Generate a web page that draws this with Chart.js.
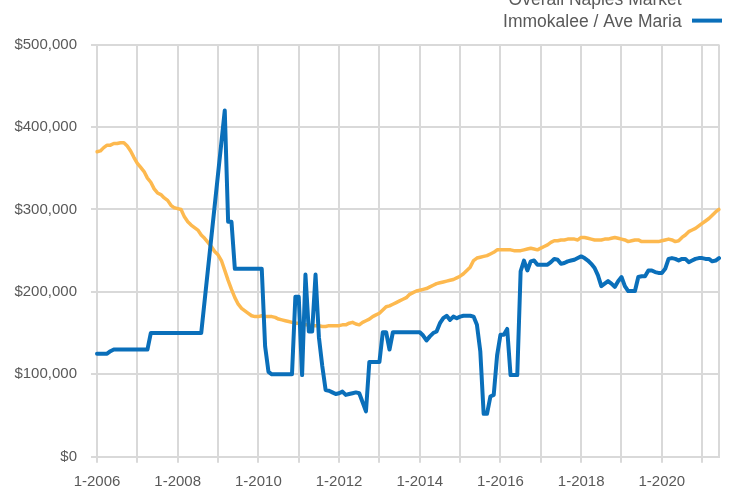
<!DOCTYPE html>
<html>
<head>
<meta charset="utf-8">
<script src="https://cdn.jsdelivr.net/npm/chart.js@4/dist/chart.umd.min.js"></script>
<style>
  html, body { margin: 0; padding: 0; background: #ffffff; }
  #wrap { width: 729px; height: 492px; }
</style>
</head>
<body>
<div id="wrap"><canvas id="chart" width="729" height="492"></canvas></div>
<script>
// Monthly median sale price, January 2006 through June 2021.
const firstYear = 2006;
const monthCount = 186;
const categories = [];
for (let i = 0; i < monthCount; i++) {
  categories.push(((i % 12) + 1) + '-' + (firstYear + Math.floor(i / 12)));
}

const seriesNames = ['Overall Naples Market', 'Immokalee / Ave Maria'];

// Overall Naples Market, by year (Jan..Dec)
const naples = [
  370000, 371000, 375000, 378000, 378000, 380000, 380000, 381000, 381000, 377000, 371000, 363000, // 2006
  356000, 351000, 346000, 338000, 333000, 325000, 320000, 318000, 314000, 311000, 305000, 302000, // 2007
  301000, 300000, 291000, 285000, 281000, 278000, 275000, 269000, 265000, 260000, 255000, 249000, // 2008
  245000, 238000, 226000, 214000, 203000, 193000, 185000, 180000, 177000, 174000, 171000, 170000, // 2009
  170000, 171000, 170000, 170000, 170000, 169000, 167000, 166000, 165000, 164000, 163000, 162000, // 2010
  162000, 161000, 160000, 160000, 159000, 159000, 159000, 158000, 158000, 159000, 159000, 159000, // 2011
  159000, 160000, 160000, 162000, 163000, 161000, 160000, 163000, 165000, 167000, 170000, 172000, // 2012
  174000, 178000, 182000, 183000, 185000, 187000, 189000, 191000, 193000, 197000, 199000, 201000, // 2013
  202000, 203000, 204000, 206000, 208000, 210000, 211000, 212000, 213000, 214000, 215000, 217000, // 2014
  219000, 222000, 226000, 230000, 238000, 241000, 242000, 243000, 244000, 246000, 248000, 251000, // 2015
  251000, 251000, 251000, 251000, 250000, 250000, 250000, 251000, 252000, 253000, 252000, 251000, // 2016
  253000, 255000, 257000, 260000, 262000, 262000, 263000, 263000, 264000, 264000, 264000, 263000, // 2017
  266000, 266000, 265000, 264000, 263000, 263000, 263000, 264000, 264000, 265000, 266000, 265000, // 2018
  264000, 263000, 261000, 262000, 263000, 263000, 261000, 261000, 261000, 261000, 261000, 261000, // 2019
  262000, 263000, 264000, 263000, 261000, 262000, 266000, 269000, 273000, 275000, 277000, 280000, // 2020
  283000, 286000, 289000, 293000, 297000, 300000                                                  // 2021
];

// Immokalee / Ave Maria, by year (Jan..Dec); null = no sales reported that month
const immokalee = [
  125000, 125000, 125000, 125000, 128000, 130000, 130000, 130000, 130000, 130000, 130000, 130000, // 2006
  130000, 130000, 130000, 130000, 150000, 150000, 150000, 150000, 150000, 150000, 150000, 150000, // 2007
  150000, 150000, 150000, 150000, 150000, 150000, 150000, 150000, null, null, null, null,         // 2008
  null, null, 420000, 285000, 285000, 228000, 228000, 228000, 228000, 228000, 228000, 228000,     // 2009
  228000, 228000, 134000, 103000, 100000, 100000, 100000, 100000, 100000, 100000, 100000, 194000, // 2010
  194000, 99000, 221000, 152000, 152000, 221000, 145000, 110000, 81000, 80000, 78000, 76000,      // 2011
  77000, 79000, 75000, 76000, 77000, 78000, 77000, 66000, 55000, 115000, 115000, 115000,          // 2012
  115000, 151000, 151000, 130000, 151000, 151000, 151000, 151000, 151000, 151000, 151000, 151000, // 2013
  151000, 147000, 141000, 146000, 150000, 152000, 162000, 168000, 171000, 166000, 170000, 168000, // 2014
  170000, 171000, 171000, 171000, 170000, 160000, 128000, 52000, 52000, 73000, 75000, 123000,     // 2015
  148000, 148000, 155000, 99000, 99000, 99000, 225000, 238000, 226000, 237000, 238000, 233000,    // 2016
  233000, 233000, 233000, 236000, 240000, 239000, 234000, 235000, 237000, 238000, 239000, 241000, // 2017
  243000, 241000, 238000, 234000, 229000, 220000, 207000, 210000, 213000, 210000, 206000, 213000, // 2018
  218000, 207000, 201000, 201000, 201000, 218000, 219000, 219000, 226000, 226000, 224000, 223000, // 2019
  223000, 228000, 240000, 241000, 240000, 238000, 240000, 240000, 236000, 238000, 240000, 241000, // 2020
  241000, 240000, 240000, 237000, 238000, 241000                                                  // 2021
];

const yTicks = [0, 100000, 200000, 300000, 400000, 500000];

const FONT = '"Liberation Sans", Arial, Helvetica, sans-serif';
const TEXT = '#595959';
const GRID = '#d9d9d9';
const NAPLES_COLOR = '#fdb94f';
const IMMOKALEE_COLOR = '#0a6fba';

const isJanuary = i => categories[i] && categories[i].startsWith('1-');
const yearOf = i => parseInt(categories[i].split('-')[1], 10);

// Stacked legend in the top-right corner, text first and the line sample after it
const cornerLegend = {
  id: 'cornerLegend',
  afterDraw(chart) {
    const ctx = chart.ctx;
    const rows = [
      { ds: chart.data.datasets[0], baseline: 4.5 },
      { ds: chart.data.datasets[1], baseline: 27.3 }
    ];
    ctx.save();
    ctx.font = '17.5px ' + FONT;
    ctx.textAlign = 'right';
    ctx.textBaseline = 'alphabetic';
    rows.forEach(r => {
      ctx.fillStyle = TEXT;
      ctx.fillText(r.ds.label, 681.7, r.baseline);
      ctx.strokeStyle = r.ds.borderColor;
      ctx.lineWidth = 4;
      ctx.beginPath();
      ctx.moveTo(692, r.baseline - 6.7);
      ctx.lineTo(722, r.baseline - 6.7);
      ctx.stroke();
    });
    ctx.restore();
  }
};

new Chart(document.getElementById('chart'), {
  type: 'line',
  data: {
    labels: categories,
    datasets: [
      {
        label: seriesNames[0],
        data: naples,
        borderColor: NAPLES_COLOR,
        backgroundColor: NAPLES_COLOR,
        borderWidth: 3.5,
        pointRadius: 0,
        tension: 0,
        borderJoinStyle: 'round',
        borderCapStyle: 'round',
        order: 1
      },
      {
        label: seriesNames[1],
        data: immokalee,
        borderColor: IMMOKALEE_COLOR,
        backgroundColor: IMMOKALEE_COLOR,
        borderWidth: 4,
        pointRadius: 0,
        tension: 0,
        spanGaps: true,
        borderJoinStyle: 'round',
        borderCapStyle: 'round',
        order: 0
      }
    ]
  },
  options: {
    responsive: false,
    animation: false,
    devicePixelRatio: 1,
    layout: { padding: { top: 44.6, right: 7, left: 0, bottom: 0 } },
    plugins: {
      legend: { display: false },
      tooltip: { enabled: false },
      title: { display: false }
    },
    scales: {
      x: {
        type: 'category',
        offset: false,
        afterFit: s => { s.height = 35.3; },
        grid: {
          color: c => (isJanuary(c.index) || c.index === monthCount - 1) ? GRID : 'rgba(0,0,0,0)',
          tickColor: c => isJanuary(c.index) ? GRID : 'rgba(0,0,0,0)',
          lineWidth: 2,
          tickLength: 6,
          drawTicks: true
        },
        border: { display: true, color: GRID, width: 2 },
        ticks: {
          autoSkip: false,
          maxRotation: 0,
          minRotation: 0,
          padding: 10,
          color: TEXT,
          font: { family: FONT, size: 15 },
          callback: (value, index) => (isJanuary(index) && yearOf(index) % 2 === 0) ? categories[index] : ''
        }
      },
      y: {
        min: 0,
        max: 500000,
        afterFit: s => { s.width = 97; },
        afterBuildTicks: s => { s.ticks = yTicks.map(v => ({ value: v })); },
        grid: { color: GRID, lineWidth: 2, tickLength: 6 },
        border: { display: true, color: GRID, width: 2 },
        ticks: {
          padding: 14,
          color: TEXT,
          font: { family: FONT, size: 15 },
          callback: v => '$' + Number(v).toLocaleString('en-US')
        }
      }
    }
  },
  plugins: [cornerLegend]
});
</script>
</body>
</html>
